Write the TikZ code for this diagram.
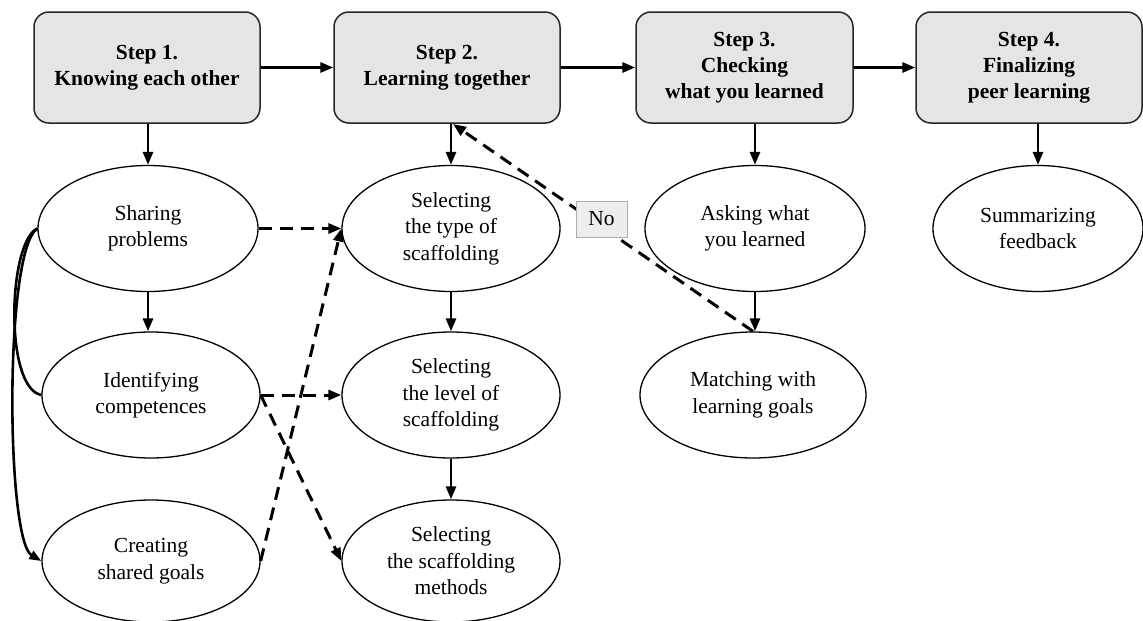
\documentclass[tikz,border=0pt]{standalone}
\usepackage{fontspec}
\setmainfont{Liberation Serif}
\usetikzlibrary{arrows.meta,shapes.geometric}
\begin{document}
\begin{tikzpicture}[x=1pt,y=-1pt,
  stepbox/.style={draw=black!85, line width=1.5pt, fill=black!10, rounded corners=15pt,
    minimum width=226pt, minimum height=111pt, inner sep=0pt, align=center,
    font=\rmfamily\fontsize{21.5}{26}\selectfont\bfseries},
  oval/.style={draw=black, line width=1.3pt, ellipse, minimum width=218pt, minimum height=126pt,
    inner sep=0pt, align=center, font=\rmfamily\fontsize{21.5}{26.5}\selectfont},
  flow/.style={line width=2.8pt, -{Triangle[length=13pt,width=10pt]}},
  dflow/.style={line width=3pt, dash pattern=on 13pt off 8pt, -{Triangle[length=13pt,width=10pt]}},
  link/.style={line width=2.6pt},
  tag/.style={draw=black!32, fill=black!7, line width=1pt, minimum width=51pt, minimum height=36pt,
    inner sep=0pt, font=\rmfamily\fontsize{21.5}{24}\selectfont}
]
\useasboundingbox (0,0) rectangle (1143,621);

% step boxes
\node[stepbox] (s1) at (147,67.5) {Step 1.\\Knowing each other};
\node[stepbox] (s2) at (447,67.5) {Step 2.\\Learning together};
\node[stepbox, minimum width=217pt] (s3) at (744.5,67.5) {Step 3.\\Checking\\what you learned};
\node[stepbox] (s4) at (1029,67.5) {Step 4.\\Finalizing\\peer learning};

% activity ovals
\node[oval, minimum width=220pt] (sp) at (148,228.5) {Sharing\\problems};
\node[oval] (ic) at (151,395) {Identifying\\competences};
\node[oval, minimum width=218pt, minimum height=122pt] (cg) at (151,561) {Creating\\shared goals};

\node[oval] (st) at (451,228.5) {Selecting\\the type of\\scaffolding};
\node[oval] (sl) at (451,395) {Selecting\\the level of\\scaffolding};
\node[oval, minimum height=122pt] (sm) at (451,561) {Selecting\\the scaffolding\\methods};

\node[oval, minimum width=220pt] (aw) at (755,228.5) {Asking what\\you learned};
\node[oval, minimum width=226pt] (mg) at (753,395) {Matching with\\learning goals};

\node[oval, minimum width=210pt] (sf) at (1038,228.5) {Summarizing\\feedback};

% main sequence
\draw[flow] (s1.east) -- (s2.west);
\draw[flow] (s2.east) -- (s3.west);
\draw[flow] (s3.east) -- (s4.west);

% step to first activity
\draw[flow] (s1.south -| sp.north) -- (sp.north);
\draw[flow] (s2.south -| st.north) -- (st.north);
\draw[flow] (s3.south -| aw.north) -- (aw.north);
\draw[flow] (s4.south -| sf.north) -- (sf.north);

% within columns
\draw[flow] (sp.south) -- (sp.south |- ic.north);
\draw[flow] (st.south) -- (st.south |- sl.north);
\draw[flow] (sl.south) -- (sl.south |- sm.north);
\draw[flow] (aw.south) -- (aw.south |- mg.north);

% left links
\draw[link] (sp.west) .. controls (8,242) and (4,388) .. (ic.west);
\draw[link, -{Triangle[length=12pt,width=9pt]}] (sp.west) .. controls (4,250) and (6,540) .. (cg.west);

% dashed cross links
\draw[dflow] (sp.east) -- (st.west);
\draw[dflow] (ic.east) -- (sl.west);
\draw[dflow] (ic.east) -- (sm.west);
\draw[dflow] (cg.east) -- (st.west);

% feedback loop
\coordinate (back) at (453,124);
\draw[dflow] (mg.north) -- (back);
\node[tag] (no) at (601.5,219) {No};
\end{tikzpicture}
\end{document}
